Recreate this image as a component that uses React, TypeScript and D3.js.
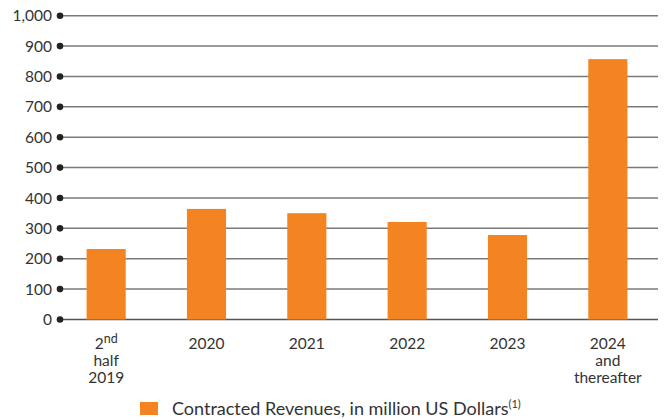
import React from "react";
import * as d3 from "d3";

const categories = ["2nd half 2019", "2020", "2021", "2022", "2023", "2024 and thereafter"];
const values = [232, 364, 350, 321, 278, 857];
const yTicks = [0, 100, 200, 300, 400, 500, 600, 700, 800, 900, 1000];

const width = 667;
const height = 419;
const orange = "#F48421";
const font = "Lato, 'Noto Sans', sans-serif";

const CategoryLabel: React.FC<{ cat: string; x: number }> = ({ cat, x }) => {
  const baseY = 349;
  const lh = 17;
  if (cat === "2nd half 2019") {
    return (
      <text x={x} y={baseY} textAnchor="middle" fontSize={15.5} fill="#333" fontFamily={font}>
        <tspan x={x} y={baseY}>
          2<tspan dy={-6} fontSize={12.5}>nd</tspan>
        </tspan>
        <tspan x={x} y={baseY + lh}>half</tspan>
        <tspan x={x} y={baseY + lh * 2}>2019</tspan>
      </text>
    );
  }
  const lines = cat === "2024 and thereafter" ? ["2024", "and", "thereafter"] : [cat];
  return (
    <text textAnchor="middle" fontSize={15.5} fill="#333" fontFamily={font}>
      {lines.map((l, i) => (
        <tspan key={i} x={x} y={baseY + i * lh}>
          {l}
        </tspan>
      ))}
    </text>
  );
};

export default function App() {
  const x = d3.scaleBand<string>().domain(categories).range([56, 658]).paddingInner(0.61).paddingOuter(0.305);
  const y = d3.scaleLinear().domain([0, 1000]).range([319.5, 15.7]);
  const fmt = d3.format(",");

  return (
    <svg width={width} height={height} style={{ position: "absolute", left: 0, top: 0 }}>
      {yTicks.map((t) => (
        <g key={t}>
          <line x1={60} x2={658} y1={y(t)} y2={y(t)} stroke={t === 0 ? "#555" : "#7a7a7a"} strokeWidth={1.5} />
          <circle cx={60} cy={y(t)} r={3.3} fill="#222" />
          <text x={52} y={y(t)} dy="0.36em" textAnchor="end" fontSize={15.5} fill="#333" fontFamily={font}>
            {fmt(t)}
          </text>
        </g>
      ))}
      {categories.map((c, i) => (
        <rect key={c} x={x(c)} y={y(values[i])} width={x.bandwidth()} height={y(0) - y(values[i])} fill={orange} />
      ))}
      {categories.map((c) => (
        <CategoryLabel key={c} cat={c} x={(x(c) ?? 0) + x.bandwidth() / 2} />
      ))}
      <rect x={140} y={402} width={18} height={13} fill={orange} />
      <text x={172} y={415} fontSize={18} fill="#333" fontFamily={font}>
        Contracted Revenues, in million US Dollars
        <tspan dy={-7} fontSize={11}>(1)</tspan>
      </text>
    </svg>
  );
}
